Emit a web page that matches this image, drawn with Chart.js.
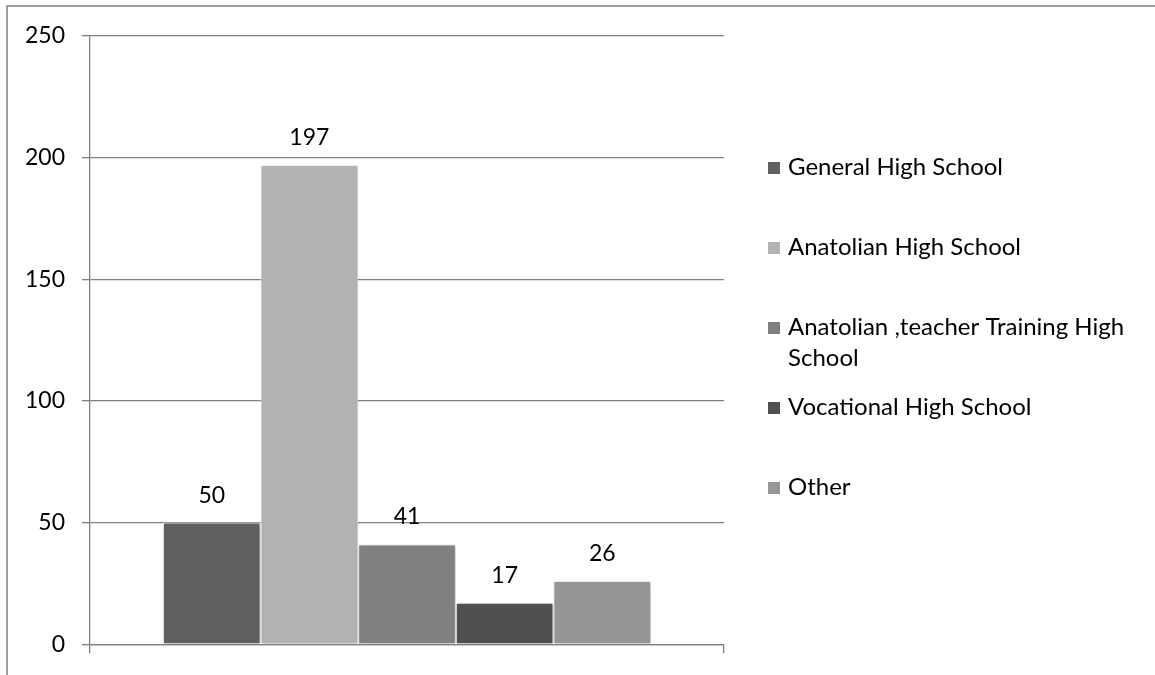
<!DOCTYPE html>
<html>
<head>
<meta charset="utf-8">
<title>High school types</title>
<script src="https://cdn.jsdelivr.net/npm/chart.js@4.4.1/dist/chart.umd.min.js"></script>
<style>
  html, body { margin: 0; padding: 0; background: #fff; }
  #wrap { width: 1155px; height: 675px; position: relative; }
</style>
</head>
<body>
<div id="wrap"><canvas id="c" width="1155" height="675"></canvas></div>
<script>
// Graduated high school type and number of students
const schoolTypes = [
  'General High School',
  'Anatolian High School',
  'Anatolian ,teacher Training High School',
  'Vocational High School',
  'Other'
];
const studentCounts = [50, 197, 41, 17, 26];
const barColors = ['#606060', '#b2b2b2', '#808080', '#505050', '#969696'];
const yTickValues = [0, 50, 100, 150, 200, 250];

const FONT = 'Lato, "Open Sans", sans-serif';
const LINE = '#808080';

// Outer frame (top and left edges) and white background
const framePlugin = {
  id: 'frame',
  beforeDraw(chart) {
    const ctx = chart.ctx;
    ctx.save();
    ctx.fillStyle = '#fff';
    ctx.fillRect(0, 0, chart.width, chart.height);
    ctx.strokeStyle = LINE;
    ctx.lineWidth = 1.5;
    ctx.beginPath();
    ctx.moveTo(7, chart.height);
    ctx.lineTo(7, 6);
    ctx.lineTo(chart.width, 6);
    ctx.stroke();
    ctx.restore();
  }
};

// Soft shadow under the bars, then the value above each bar
const barDecor = {
  id: 'barDecor',
  beforeDatasetsDraw(chart) {
    const ctx = chart.ctx;
    ctx.save();
    ctx.shadowColor = 'rgba(0,0,0,0.28)';
    ctx.shadowBlur = 4;
    ctx.shadowOffsetX = 1;
    ctx.shadowOffsetY = 1;
  },
  afterDatasetsDraw(chart) {
    const ctx = chart.ctx;
    ctx.restore();
    ctx.save();
    ctx.font = '23px ' + FONT;
    ctx.fillStyle = '#000';
    ctx.textAlign = 'center';
    ctx.textBaseline = 'alphabetic';
    chart.data.datasets.forEach((ds, i) => {
      const el = chart.getDatasetMeta(i).data[0];
      ctx.fillText(String(ds.data[0]), el.x, el.y - 20);
    });
    ctx.restore();
  }
};

// Legend on the right, long names wrapped onto a second line
const sideLegend = {
  id: 'sideLegend',
  afterDraw(chart) {
    const ctx = chart.ctx;
    const boxX = 768, textX = 788, firstBaseline = 175, step = 80, lineH = 31, maxW = 362;
    ctx.save();
    ctx.font = '24px ' + FONT;
    ctx.textAlign = 'left';
    ctx.textBaseline = 'alphabetic';
    chart.data.datasets.forEach((ds, i) => {
      const base = firstBaseline + step * i;
      ctx.fillStyle = ds.backgroundColor;
      ctx.fillRect(boxX, base - 13, 12, 12);
      const words = ds.label.split(' ');
      const lines = [];
      let cur = '';
      words.forEach(w => {
        const test = cur ? cur + ' ' + w : w;
        if (cur && ctx.measureText(test).width > maxW) { lines.push(cur); cur = w; }
        else cur = test;
      });
      if (cur) lines.push(cur);
      ctx.fillStyle = '#000';
      lines.forEach((ln, j) => ctx.fillText(ln, textX, base + j * lineH));
    });
    ctx.restore();
  }
};

function draw() {
  new Chart(document.getElementById('c'), {
    type: 'bar',
    data: {
      labels: [''],
      datasets: schoolTypes.map((name, i) => ({
        label: name,
        data: [studentCounts[i]],
        backgroundColor: barColors[i],
        borderColor: '#ffffff',
        borderWidth: 1,
        categoryPercentage: 0.77,
        barPercentage: 1
      }))
    },
    options: {
      responsive: false,
      animation: false,
      devicePixelRatio: 1,
      layout: { padding: { top: 36, right: 431, bottom: 0, left: 0 } },
      plugins: { legend: { display: false }, tooltip: { enabled: false } },
      scales: {
        x: {
          type: 'category',
          offset: true,
          grid: { offset: true, drawOnChartArea: false, drawTicks: true, tickLength: 9, color: LINE, lineWidth: 1.3 },
          border: { display: true, color: LINE, width: 1.3 },
          ticks: { display: false },
          afterFit(s) { s.height = 29; }
        },
        y: {
          min: 0,
          max: 250,
          afterBuildTicks(s) { s.ticks = yTickValues.map(v => ({ value: v })); },
          ticks: { padding: 17, color: '#000', font: { family: FONT, size: 23 } },
          grid: { color: LINE, lineWidth: 1.3, tickLength: 8 },
          border: { display: true, color: LINE, width: 1.3 },
          afterFit(s) { s.width = 90; }
        }
      }
    },
    plugins: [framePlugin, barDecor, sideLegend]
  });
}

if (document.fonts && document.fonts.load) {
  document.fonts.load('24px Lato').then(draw, draw);
} else {
  draw();
}
</script>
</body>
</html>
